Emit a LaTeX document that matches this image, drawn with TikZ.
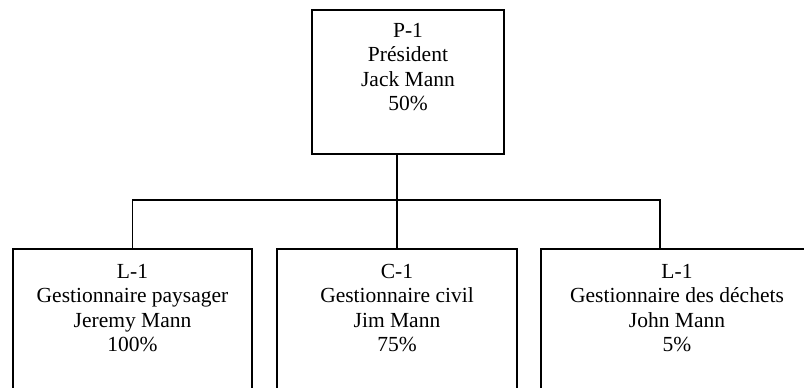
\documentclass[tikz,border=0pt]{standalone}
\usepackage{fontspec}
\setmainfont{Liberation Serif}
\usepackage{tikz}
\usetikzlibrary{positioning}

\begin{document}
\begin{tikzpicture}[x=1pt,y=1pt]
    \tikzstyle{box}=[draw,line width=1.9pt,rectangle,inner sep=0pt,minimum height=170pt,anchor=north]
    \tikzstyle{txt}=[align=center,inner sep=0pt,font=\fontsize{21.5}{24.5}\selectfont]
    \tikzstyle{link}=[line width=1.9pt]

    \useasboundingbox (0,0) rectangle (804,388);
    \clip (0,0) rectangle (804,388);

    \def\boxtop{140}

    % President
    \node[box,minimum width=192pt,minimum height=144pt] (P) at (408,379) {};
    \node[txt,below=14pt of P.north] (Ptxt) {P-1\\Président\\Jack Mann\\50\%};

    % Managers (boxes run past the bottom edge)
    \node[box,minimum width=239pt] (L) at (132.5,\boxtop) {};
    \node[txt,below=16pt of L.north] (Ltxt) {L-1\\Gestionnaire paysager\\Jeremy Mann\\100\%};

    \node[box,minimum width=240pt] (C) at (397,\boxtop) {};
    \node[txt,below=16pt of C.north] (Ctxt) {C-1\\Gestionnaire civil\\Jim Mann\\75\%};

    \node[box,minimum width=272pt] (W) at (677,\boxtop) {};
    \node[txt,below=16pt of W.north] (Wtxt) {L-1\\Gestionnaire des déchets\\John Mann\\5\%};

    % Connectors
    \coordinate (bus) at (0,188);
    \coordinate (Wd) at ([xshift=120pt]W.north west);

    \draw[link] (P.south -| C.north) -- (C.north);
    \draw[link] (L.north) -- (L.north |- bus) -- (Wd |- bus) -- (Wd);
\end{tikzpicture}
\end{document}
